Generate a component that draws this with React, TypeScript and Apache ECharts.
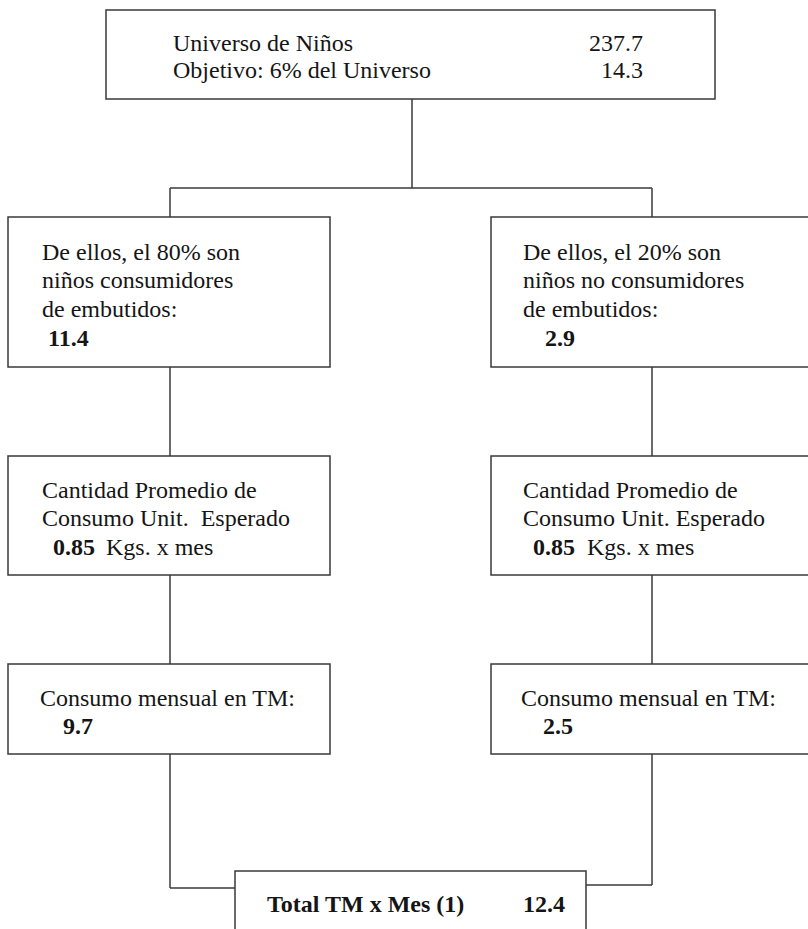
import React, { useEffect, useRef } from "react";
import * as echarts from "echarts";

// ---- data ----
const topLabels = ["Universo de Niños", "Objetivo: 6% del Universo"];
const topValues = ["237.7", "14.3"];
const branchIntro = [
  ["De ellos, el 80% son", "niños consumidores", "de embutidos:"],
  ["De ellos, el 20% son", "niños no consumidores", "de embutidos:"],
];
const branchCounts = ["11.4", "2.9"];
const avgLabels = [
  ["Cantidad Promedio de", "Consumo Unit.  Esperado"],
  ["Cantidad Promedio de", "Consumo Unit. Esperado"],
];
const unitConsumption = ["0.85", "0.85"];
const unitLabel = "Kgs. x mes";
const monthlyLabel = "Consumo mensual en TM:";
const monthlyValues = ["9.7", "2.5"];
const totalLabel = "Total TM x Mes (1)";
const totalValue = "12.4";

// ---- layout ----
const FONT = "'Liberation Serif', 'Times New Roman', serif";
const FS = 24;
const INK = "#151515";
const LINE = "#3a3a3a";
const colBoxX = [8, 491];
const colBoxW = 322;
const colCenter = [170, 652];
const colTextX = [42, 523];
const countIndent = [6, 22];
const unitIndent = [11, 10];
const unitLabelIndent = [64, 64];
const monthlyIndent = [21, 20];

function txt(x: number, y: number, s: string, bold = false, align = "left") {
  return {
    type: "text",
    x,
    y,
    style: {
      text: s,
      fill: INK,
      font: `${bold ? "bold " : ""}${FS}px ${FONT}`,
      textAlign: align,
      textVerticalAlign: "middle",
    },
  };
}
function box(x: number, y: number, w: number, h: number) {
  return {
    type: "rect",
    shape: { x, y, width: w, height: h },
    style: { fill: "#fff", stroke: LINE, lineWidth: 1.5 },
  };
}
function ln(x1: number, y1: number, x2: number, y2: number) {
  return {
    type: "line",
    shape: { x1, y1, x2, y2 },
    style: { stroke: LINE, lineWidth: 1.5 },
  };
}

export default function App() {
  const ref = useRef<HTMLDivElement>(null);
  useEffect(() => {
    if (!ref.current) return;
    const chart = echarts.init(ref.current, undefined, { renderer: "svg" });
    const els: any[] = [];
    // connectors
    els.push(ln(412, 99, 412, 188));
    els.push(ln(colCenter[0], 188, colCenter[1], 188));
    for (let c = 0; c < 2; c++) {
      const cx = colCenter[c];
      els.push(ln(cx, 188, cx, 217));
      els.push(ln(cx, 367, cx, 456));
      els.push(ln(cx, 575, cx, 664));
    }
    els.push(ln(colCenter[0], 754, colCenter[0], 888));
    els.push(ln(colCenter[0], 888, 235, 888));
    els.push(ln(colCenter[1], 753, colCenter[1], 885));
    els.push(ln(586, 885, colCenter[1], 885));

    // top box
    els.push(box(106, 10, 609, 89));
    topLabels.forEach((s, i) => els.push(txt(173, 43 + i * 27, s)));
    topValues.forEach((s, i) => els.push(txt(643, 43 + i * 27, s, false, "right")));

    for (let c = 0; c < 2; c++) {
      const bx = colBoxX[c];
      const tx = colTextX[c];
      els.push(box(bx, 217, colBoxW, 150));
      branchIntro[c].forEach((s, i) => els.push(txt(tx, 252 + i * 28.3, s)));
      els.push(txt(tx + countIndent[c], 338, branchCounts[c], true));

      els.push(box(bx, 456, colBoxW, 119));
      avgLabels[c].forEach((s, i) => els.push(txt(tx, 490 + i * 28, s)));
      els.push(txt(tx + unitIndent[c], 547, unitConsumption[c], true));
      els.push(txt(tx + unitLabelIndent[c], 547, unitLabel));

      els.push(box(bx, 664, colBoxW, 90));
      els.push(txt(tx - 2, 698, monthlyLabel));
      els.push(txt(tx + monthlyIndent[c], 726, monthlyValues[c], true));
    }

    // total box
    els.push(box(235, 871, 351, 80));
    els.push(txt(267, 904, totalLabel, true));
    els.push(txt(523, 904, totalValue, true));

    chart.setOption({
      animation: false,
      backgroundColor: "#ffffff",
      graphic: { elements: els },
    });
    return () => chart.dispose();
  }, []);
  return (
    <div
      ref={ref}
      style={{ position: "absolute", left: 0, top: 0, width: 808, height: 929 }}
    />
  );
}
